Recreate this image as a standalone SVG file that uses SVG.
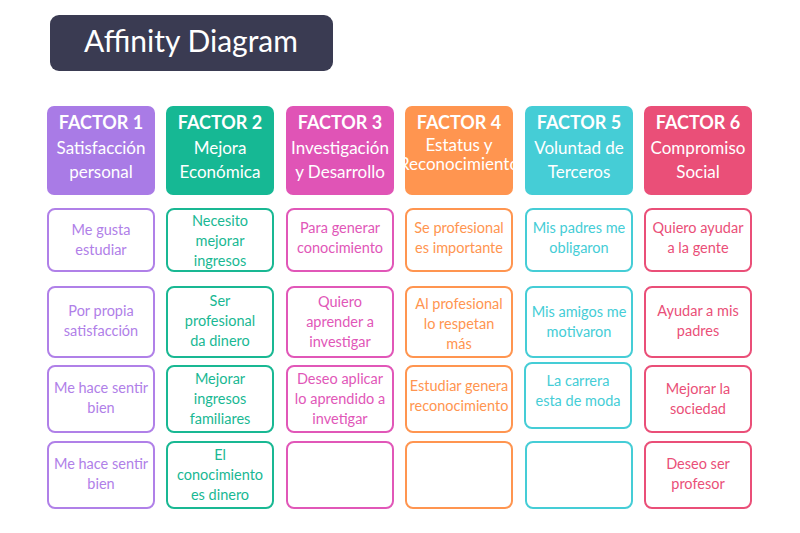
<svg xmlns="http://www.w3.org/2000/svg" width="800" height="533" viewBox="0 0 800 533">
<style>
text{font-family:Lato,"Open Sans",sans-serif;text-anchor:middle}
.h{fill:#fff;font-size:17px}
.hb{fill:#fff;font-size:18px;font-weight:bold}
.c{fill:#fff;stroke-width:2}
.t{font-size:14.5px}
.c1{stroke:#b080e8}.t1{fill:#b080e8}
.c2{stroke:#19b893}.t2{fill:#19b893}
.c3{stroke:#e157b8}.t3{fill:#e157b8}
.c4{stroke:#ff9550}.t4{fill:#ff9550}
.c5{stroke:#45cdd6}.t5{fill:#45cdd6}
.c6{stroke:#ea4f78}.t6{fill:#ea4f78}
</style>
<rect width="800" height="533" fill="#fff"/>
<g id="title"><rect x="50" y="15" width="283" height="56" rx="9" fill="#3a3b52"/><text x="191" y="52" fill="#fff" font-size="30">Affinity Diagram</text></g>
<g id="f1"><rect x="47" y="106" width="108" height="89" rx="7" fill="#a97be6"/><text class="hb" x="101" y="129">FACTOR 1</text><text class="h" x="101" y="154">Satisfacción</text><text class="h" x="101" y="178">personal</text></g>
<g id="f2"><rect x="166" y="106" width="108" height="89" rx="7" fill="#16b894"/><text class="hb" x="220" y="129">FACTOR 2</text><text class="h" x="220" y="154">Mejora</text><text class="h" x="220" y="178">Económica</text></g>
<g id="f3"><rect x="286" y="106" width="108" height="89" rx="7" fill="#e054b6"/><text class="hb" x="340" y="129">FACTOR 3</text><text class="h" x="340" y="154">Investigación</text><text class="h" x="340" y="178">y Desarrollo</text></g>
<g id="f4"><rect x="405" y="106" width="108" height="89" rx="7" fill="#ff9550"/><text class="hb" x="459" y="129">FACTOR 4</text><text class="h" x="459" y="151" font-size="13.5">Estatus y</text><text class="h" x="459" y="170" font-size="13.5">Reconocimiento</text></g>
<g id="f5"><rect x="525" y="106" width="108" height="89" rx="7" fill="#45cdd6"/><text class="hb" x="579" y="129">FACTOR 5</text><text class="h" x="579" y="154">Voluntad de</text><text class="h" x="579" y="178">Terceros</text></g>
<g id="f6"><rect x="644" y="106" width="108" height="89" rx="7" fill="#ea4f78"/><text class="hb" x="698" y="129">FACTOR 6</text><text class="h" x="698" y="154">Compromiso</text><text class="h" x="698" y="178">Social</text></g>

<g id="c1a"><rect class="c c1" x="48" y="209" width="106" height="62" rx="7"/><text class="t t1" x="101" y="235">Me gusta</text><text class="t t1" x="101" y="255">estudiar</text></g>
<g id="c1b"><rect class="c c1" x="48" y="287" width="106" height="70" rx="7"/><text class="t t1" x="101" y="316">Por propia</text><text class="t t1" x="101" y="336">satisfacción</text></g>
<g id="c1c"><rect class="c c1" x="48" y="366" width="106" height="66" rx="7"/><text class="t t1" x="101" y="393">Me hace sentir</text><text class="t t1" x="101" y="413">bien</text></g>
<g id="c1d"><rect class="c c1" x="48" y="442" width="106" height="66" rx="7"/><text class="t t1" x="101" y="469">Me hace sentir</text><text class="t t1" x="101" y="489">bien</text></g>

<g id="c2a"><rect class="c c2" x="167" y="209" width="106" height="62" rx="7"/><text class="t t2" x="220" y="226">Necesito</text><text class="t t2" x="220" y="246">mejorar</text><text class="t t2" x="220" y="266">ingresos</text></g>
<g id="c2b"><rect class="c c2" x="167" y="287" width="106" height="70" rx="7"/><text class="t t2" x="220" y="306">Ser</text><text class="t t2" x="220" y="326">profesional</text><text class="t t2" x="220" y="346">da dinero</text></g>
<g id="c2c"><rect class="c c2" x="167" y="366" width="106" height="66" rx="7"/><text class="t t2" x="220" y="384">Mejorar</text><text class="t t2" x="220" y="404">ingresos</text><text class="t t2" x="220" y="424">familiares</text></g>
<g id="c2d"><rect class="c c2" x="167" y="442" width="106" height="66" rx="7"/><text class="t t2" x="220" y="460">El</text><text class="t t2" x="220" y="480">conocimiento</text><text class="t t2" x="220" y="500">es dinero</text></g>

<g id="c3a"><rect class="c c3" x="287" y="209" width="106" height="62" rx="7"/><text class="t t3" x="340" y="233">Para generar</text><text class="t t3" x="340" y="253">conocimiento</text></g>
<g id="c3b"><rect class="c c3" x="287" y="287" width="106" height="70" rx="7"/><text class="t t3" x="340" y="307">Quiero</text><text class="t t3" x="340" y="327">aprender a</text><text class="t t3" x="340" y="347">investigar</text></g>
<g id="c3c"><rect class="c c3" x="287" y="366" width="106" height="66" rx="7"/><text class="t t3" x="340" y="384">Deseo aplicar</text><text class="t t3" x="340" y="404">lo aprendido a</text><text class="t t3" x="340" y="424">invetigar</text></g>
<g id="c3d"><rect class="c c3" x="287" y="442" width="106" height="66" rx="7"/></g>

<g id="c4a"><rect class="c c4" x="406" y="209" width="106" height="62" rx="7"/><text class="t t4" x="459" y="233">Se profesional</text><text class="t t4" x="459" y="253">es importante</text></g>
<g id="c4b"><rect class="c c4" x="406" y="287" width="106" height="70" rx="7"/><text class="t t4" x="459" y="309">Al profesional</text><text class="t t4" x="459" y="329">lo respetan</text><text class="t t4" x="459" y="349">más</text></g>
<g id="c4c"><rect class="c c4" x="406" y="366" width="106" height="66" rx="7"/><text class="t t4" x="459" y="391">Estudiar genera</text><text class="t t4" x="459" y="411">reconocimiento</text></g>
<g id="c4d"><rect class="c c4" x="406" y="442" width="106" height="66" rx="7"/></g>

<g id="c5a"><rect class="c c5" x="526" y="209" width="106" height="62" rx="7"/><text class="t t5" x="579" y="233">Mis padres me</text><text class="t t5" x="579" y="253">obligaron</text></g>
<g id="c5b"><rect class="c c5" x="526" y="287" width="106" height="70" rx="7"/><text class="t t5" x="579" y="317">Mis amigos me</text><text class="t t5" x="579" y="337">motivaron</text></g>
<g id="c5c"><rect class="c c5" x="525" y="363" width="106" height="65" rx="7"/><text class="t t5" x="578" y="386">La carrera</text><text class="t t5" x="578" y="406">esta de moda</text></g>
<g id="c5d"><rect class="c c5" x="526" y="442" width="106" height="66" rx="7"/></g>

<g id="c6a"><rect class="c c6" x="645" y="209" width="106" height="62" rx="7"/><text class="t t6" x="698" y="233">Quiero ayudar</text><text class="t t6" x="698" y="253">a la gente</text></g>
<g id="c6b"><rect class="c c6" x="645" y="287" width="106" height="70" rx="7"/><text class="t t6" x="698" y="316">Ayudar a mis</text><text class="t t6" x="698" y="336">padres</text></g>
<g id="c6c"><rect class="c c6" x="645" y="366" width="106" height="66" rx="7"/><text class="t t6" x="698" y="394">Mejorar la</text><text class="t t6" x="698" y="414">sociedad</text></g>
<g id="c6d"><rect class="c c6" x="645" y="442" width="106" height="66" rx="7"/><text class="t t6" x="698" y="469">Deseo ser</text><text class="t t6" x="698" y="489">profesor</text></g>
<g id="connectors"/>
</svg>
